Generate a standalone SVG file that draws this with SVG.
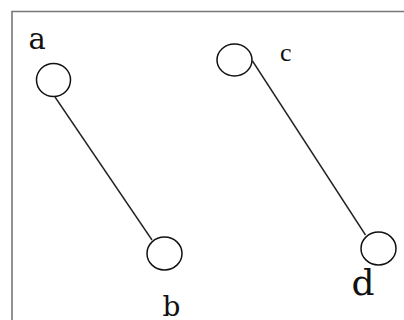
<svg xmlns="http://www.w3.org/2000/svg" width="404" height="320" viewBox="0 0 404 320">
<style>
.node{fill:#fff;stroke:#111;stroke-width:1.5}
.edge{stroke:#222;stroke-width:1.4;fill:none}
.lbl{font-family:"DejaVu Serif",serif;fill:#111}
.lbl2{font-family:"Liberation Serif",serif;fill:#111}
</style>
<rect width="404" height="320" fill="#fff"/>
<path d="M12,320 V11.5 H404" fill="none" stroke="#777" stroke-width="1.6"/>
<g id="connectors">
<line class="edge" x1="55" y1="97" x2="152" y2="240" stroke="#444"/>
<line class="edge" x1="252.5" y1="61" x2="365.5" y2="235"/>
</g>
<g id="node-a">
<ellipse class="node" cx="53.5" cy="80" rx="17" ry="16.5"/>
<text class="lbl" x="28.5" y="48.5" font-size="29">a</text>
</g>
<g id="node-b">
<ellipse class="node" cx="164.5" cy="253.5" rx="17.5" ry="16.5"/>
<text class="lbl" x="162.5" y="316" font-size="28">b</text>
</g>
<g id="node-c">
<ellipse class="node" cx="234.5" cy="60" rx="17.5" ry="16"/>
<text class="lbl2" x="280" y="61" font-size="26">c</text>
</g>
<g id="node-d">
<ellipse class="node" cx="378.5" cy="248.5" rx="17.5" ry="16.5"/>
<text class="lbl" x="351.5" y="295" font-size="36">d</text>
</g>
</svg>
